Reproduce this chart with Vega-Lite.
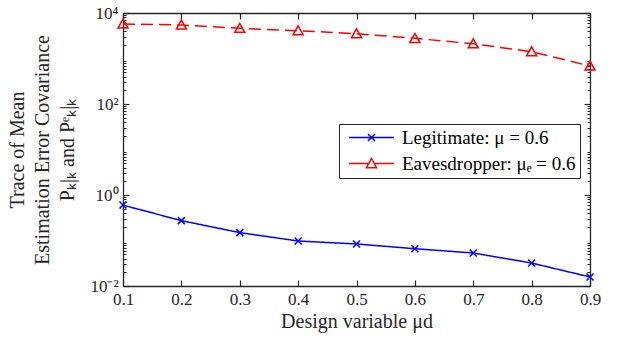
{
  "$schema": "https://vega.github.io/schema/vega-lite/v6.json",
  "width": 467,
  "height": 273,
  "autosize": {"type": "none"},
  "padding": {"left": 123, "top": 13, "right": 29, "bottom": 58},
  "background": "white",
  "config": {
    "view": {"stroke": null},
    "font": "Times New Roman",
    "axis": {
      "grid": false,
      "labelFlush": false,
      "labelFont": "Times New Roman",
      "titleFont": "Times New Roman",
      "labelFontSize": 17,
      "titleFontSize": 20,
      "titleFontWeight": "normal",
      "labelColor": "#262626",
      "titleColor": "#262626"
    }
  },
  "data": {
    "values": [
      {"mu": 0.1, "series": "Legitimate: μ = 0.6", "value": 0.60},
      {"mu": 0.2, "series": "Legitimate: μ = 0.6", "value": 0.273},
      {"mu": 0.3, "series": "Legitimate: μ = 0.6", "value": 0.149},
      {"mu": 0.4, "series": "Legitimate: μ = 0.6", "value": 0.0975},
      {"mu": 0.5, "series": "Legitimate: μ = 0.6", "value": 0.0838},
      {"mu": 0.6, "series": "Legitimate: μ = 0.6", "value": 0.066},
      {"mu": 0.7, "series": "Legitimate: μ = 0.6", "value": 0.0531},
      {"mu": 0.8, "series": "Legitimate: μ = 0.6", "value": 0.032},
      {"mu": 0.9, "series": "Legitimate: μ = 0.6", "value": 0.0158},
      {"mu": 0.1, "series": "Eavesdropper: μₑ = 0.6", "value": 5730},
      {"mu": 0.2, "series": "Eavesdropper: μₑ = 0.6", "value": 5450},
      {"mu": 0.3, "series": "Eavesdropper: μₑ = 0.6", "value": 4600},
      {"mu": 0.4, "series": "Eavesdropper: μₑ = 0.6", "value": 4080},
      {"mu": 0.5, "series": "Eavesdropper: μₑ = 0.6", "value": 3510},
      {"mu": 0.6, "series": "Eavesdropper: μₑ = 0.6", "value": 2770},
      {"mu": 0.7, "series": "Eavesdropper: μₑ = 0.6", "value": 2110},
      {"mu": 0.8, "series": "Eavesdropper: μₑ = 0.6", "value": 1410},
      {"mu": 0.9, "series": "Eavesdropper: μₑ = 0.6", "value": 684}
    ]
  },
  "layer": [
    {
      "mark": {"type": "line", "strokeWidth": 1.5},
      "encoding": {
        "x": {
          "field": "mu", "type": "quantitative",
          "scale": {"domain": [0.1, 0.9], "nice": false, "zero": false},
          "axis": {
            "orient": "bottom",
            "values": [0.1, 0.2, 0.3, 0.4, 0.5, 0.6, 0.7, 0.8, 0.9],
            "format": ".1f",
            "domain": true,
            "domainColor": "#262626",
            "domainWidth": 1.3,
            "ticks": true,
            "tickColor": "#262626",
            "tickWidth": 1.2,
            "tickSize": -6,
            "labelPadding": 11,
            "title": "Design variable μd",
            "titlePadding": 4
          }
        },
        "y": {
          "field": "value", "type": "quantitative",
          "scale": {"type": "log", "domain": [0.01, 10000], "nice": false},
          "axis": {
            "orient": "left",
            "values": [0.01, 1, 100, 10000],
            "labelExpr": "datum.value < 0.1 ? '10⁻²' : datum.value < 10 ? '10⁰' : datum.value < 1000 ? '10²' : '10⁴'",
            "domain": true,
            "domainColor": "#262626",
            "domainWidth": 1.3,
            "ticks": true,
            "tickColor": "#262626",
            "tickWidth": 1.2,
            "tickSize": -6,
            "labelPadding": 11,
            "title": ["Trace of Mean", "Estimation Error Covariance", "Pₖ|ₖ and Pᵉₖ|ₖ"],
            "titleLineHeight": 25,
            "titlePadding": 12
          }
        },
        "color": {
          "field": "series", "type": "nominal",
          "scale": {"domain": ["Legitimate: μ = 0.6", "Eavesdropper: μₑ = 0.6"], "range": ["#0000ff", "#ff0000"]},
          "legend": null
        },
        "strokeDash": {
          "field": "series", "type": "nominal",
          "scale": {"domain": ["Legitimate: μ = 0.6", "Eavesdropper: μₑ = 0.6"], "range": [[1, 0], [12, 6]]},
          "legend": null
        }
      }
    },
    {
      "mark": {"type": "point", "filled": false, "strokeWidth": 1.5, "opacity": 1, "size": 49},
      "encoding": {
        "x": {
          "field": "mu", "type": "quantitative",
          "axis": {
            "orient": "top",
            "values": [0.1, 0.2, 0.3, 0.4, 0.5, 0.6, 0.7, 0.8, 0.9],
            "labels": false,
            "domain": true,
            "domainColor": "#262626",
            "domainWidth": 1.3,
            "ticks": true,
            "tickColor": "#262626",
            "tickWidth": 1.2,
            "tickSize": -6,
            "title": null
          }
        },
        "y": {
          "field": "value", "type": "quantitative",
          "axis": {
            "orient": "right",
            "values": [0.01, 1, 100, 10000],
            "labels": false,
            "domain": true,
            "domainColor": "#262626",
            "domainWidth": 1.3,
            "ticks": true,
            "tickColor": "#262626",
            "tickWidth": 1.2,
            "tickSize": -6,
            "title": null
          }
        },
        "color": {
          "field": "series", "type": "nominal",
          "scale": {"domain": ["Legitimate: μ = 0.6", "Eavesdropper: μₑ = 0.6"], "range": ["#0000ff", "#ff0000"]},
          "legend": null
        },
        "shape": {
          "field": "series", "type": "nominal",
          "scale": {"domain": ["Legitimate: μ = 0.6", "Eavesdropper: μₑ = 0.6"], "range": ["M-1,-1L1,1M-1,1L1,-1", "M-1.43,1.15L0,-1.4L1.43,1.15Z"]},
          "legend": null
        }
      }
    },
    {
      "mark": {"type": "point", "opacity": 0},
      "encoding": {
        "x": {"field": "mu", "type": "quantitative", "axis": null},
        "y": {
          "field": "value", "type": "quantitative",
          "axis": {
            "orient": "left",
            "values": [0.02, 0.03, 0.04, 0.05, 0.06, 0.07, 0.08, 0.09, 0.2, 0.3, 0.4, 0.5, 0.6, 0.7, 0.8, 0.9, 2, 3, 4, 5, 6, 7, 8, 9, 20, 30, 40, 50, 60, 70, 80, 90, 200, 300, 400, 500, 600, 700, 800, 900, 2000, 3000, 4000, 5000, 6000, 7000, 8000, 9000],
            "labels": false,
            "domain": false,
            "ticks": true,
            "tickColor": "#262626",
            "tickWidth": 1,
            "tickSize": -3,
            "title": null
          }
        }
      }
    },
    {
      "mark": {"type": "point", "opacity": 0},
      "encoding": {
        "x": {"field": "mu", "type": "quantitative", "axis": null},
        "y": {
          "field": "value", "type": "quantitative",
          "axis": {
            "orient": "right",
            "values": [0.02, 0.03, 0.04, 0.05, 0.06, 0.07, 0.08, 0.09, 0.2, 0.3, 0.4, 0.5, 0.6, 0.7, 0.8, 0.9, 2, 3, 4, 5, 6, 7, 8, 9, 20, 30, 40, 50, 60, 70, 80, 90, 200, 300, 400, 500, 600, 700, 800, 900, 2000, 3000, 4000, 5000, 6000, 7000, 8000, 9000],
            "labels": false,
            "domain": false,
            "ticks": true,
            "tickColor": "#262626",
            "tickWidth": 1,
            "tickSize": -3,
            "title": null
          }
        }
      }
    },
    {
      "transform": [{"filter": "false"}],
      "mark": {"type": "point", "filled": false, "strokeWidth": 1.5, "size": 225},
      "encoding": {
        "x": {"field": "mu", "type": "quantitative", "axis": null},
        "y": {"field": "value", "type": "quantitative", "axis": null},
        "color": {
          "field": "series", "type": "nominal",
          "scale": {"domain": ["Legitimate: μ = 0.6", "Eavesdropper: μₑ = 0.6"], "range": ["#0000ff", "#ff0000"]},
          "legend": {
            "orient": "none",
            "legendX": 216,
            "legendY": 111,
            "title": null,
            "strokeColor": "#262626",
            "fillColor": "white",
            "padding": 4,
            "rowPadding": 6,
            "labelFont": "Times New Roman",
            "labelFontSize": 19,
            "labelLimit": 400,
            "labelColor": "#000000",
            "symbolSize": 225,
            "symbolOffset": 19,
            "labelOffset": 21,
            "symbolStrokeWidth": 1.5,
            "symbolOpacity": 1
          }
        },
        "shape": {
          "field": "series", "type": "nominal",
          "scale": {"domain": ["Legitimate: μ = 0.6", "Eavesdropper: μₑ = 0.6"], "range": ["M-3,0H3M-0.47,-0.47L0.47,0.47M-0.47,0.47L0.47,-0.47", "M-3,0H-0.37M0.37,0H3M-0.67,0.55L0,-0.67L0.67,0.55Z"]},
          "legend": {
            "orient": "none",
            "legendX": 216,
            "legendY": 111,
            "title": null,
            "strokeColor": "#262626",
            "fillColor": "white",
            "padding": 4,
            "rowPadding": 6,
            "labelFont": "Times New Roman",
            "labelFontSize": 19,
            "labelLimit": 400,
            "labelColor": "#000000",
            "symbolSize": 225,
            "symbolOffset": 19,
            "labelOffset": 21,
            "symbolStrokeWidth": 1.5,
            "symbolOpacity": 1
          }
        }
      }
    }
  ],
  "resolve": {
    "axis": {"x": "independent", "y": "independent"},
    "scale": {"shape": "independent", "color": "independent"}
  }
}
